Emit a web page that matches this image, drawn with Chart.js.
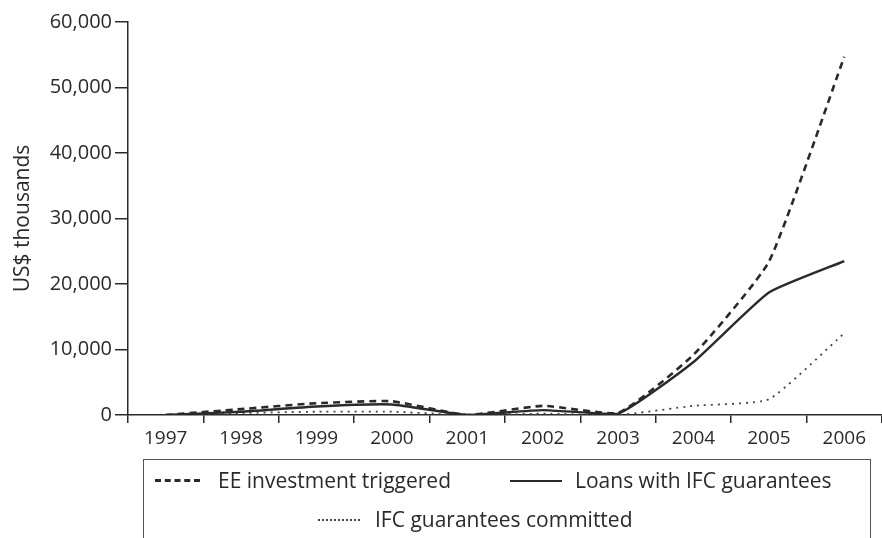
<!DOCTYPE html>
<html>
<head>
<meta charset="utf-8">
<script src="https://cdn.jsdelivr.net/npm/chart.js@4/dist/chart.umd.min.js"></script>
<style>
    html, body { margin: 0; padding: 0; background: #fff; }
    #wrap { position: relative; width: 882px; height: 538px; overflow: hidden; }
    #legend {
        position: absolute; left: 143px; top: 459px; width: 728px; height: 100px;
        border: 1.5px solid #555; box-sizing: border-box;
        font-family: "Open Sans", sans-serif; font-size: 21px; color: #2a2a2a;
    }
    .item { position: absolute; display: flex; align-items: center; white-space: nowrap; line-height: 29px; }
    .sample { display: inline-block; height: 0; }
</style>
</head>
<body>
<div id="wrap">
    <canvas id="grafica" width="882" height="538"></canvas>
    <div id="legend"></div>
</div>
<script>
// categorías (años)
const years = ['1997', '1998', '1999', '2000', '2001', '2002', '2003', '2004', '2005', '2006'];
// valores de cada serie, US$ miles
const eeInvestment = [0, 900, 1800, 2100, 0, 1400, 300, 9200, 23400, 54700];
const loansIfc = [0, 500, 1300, 1600, 0, 750, 200, 8100, 18700, 23500];
const ifcCommitted = [0, 300, 500, 500, 0, 200, 0, 1400, 2400, 12500];
// nombres de las series
const seriesNames = ['EE investment triggered', 'Loans with IFC guarantees', 'IFC guarantees committed'];

const FONT = { family: '"Open Sans", sans-serif', size: 20 };
const INK = '#2a2a2a';

const element = document.getElementById('grafica').getContext('2d');
const graph = new Chart(element, {
    type: 'line',
    data: {
        labels: years,
        datasets: [{
            label: seriesNames[0],
            data: eeInvestment,
            borderColor: INK,
            borderWidth: 2.6,
            borderDash: [7, 5]
        }, {
            label: seriesNames[1],
            data: loansIfc,
            borderColor: INK,
            borderWidth: 2.4
        }, {
            label: seriesNames[2],
            data: ifcCommitted,
            borderColor: '#444',
            borderWidth: 1.8,
            borderDash: [2, 5]
        }]
    },
    options: {
        responsive: false,
        animation: false,
        layout: { padding: { top: 22, right: 0, bottom: 0, left: 0 } },
        elements: {
            point: { radius: 0 },
            line: { tension: 0.15 }
        },
        plugins: {
            legend: { display: false },
            tooltip: { enabled: false }
        },
        scales: {
            x: {
                offset: true,
                grid: { offset: true, drawOnChartArea: false, drawTicks: true, tickLength: 8, color: INK, lineWidth: 1.5 },
                border: { display: true, color: INK, width: 1.5 },
                ticks: { color: INK, font: { family: FONT.family, size: 19 }, padding: 4, maxRotation: 0 },
                afterFit: (scale) => { scale.height = 123; }
            },
            y: {
                min: 0,
                max: 60000,
                grid: { drawOnChartArea: false, drawTicks: true, tickLength: 13, color: INK, lineWidth: 1.5 },
                border: { display: true, color: INK, width: 1.5 },
                ticks: { stepSize: 10000, color: INK, font: FONT, padding: 3 },
                title: { display: true, text: 'US$ thousands', color: INK, font: { family: FONT.family, size: 21 }, padding: { top: 10, bottom: 0 } },
                afterFit: (scale) => { scale.width = 128; }
            }
        }
    }
});

// leyenda en html con las muestras de línea
const legendPos = [
    { left: 11, top: 6 },
    { left: 366, top: 6 },
    { left: 174, top: 45 }
];
const sampleStyle = [
    { width: 45, gap: 18, border: '3px dashed ' + INK },
    { width: 52, gap: 13, border: '2.5px solid ' + INK },
    { width: 42, gap: 15, border: '2px dotted #444' }
];
const legend = document.getElementById('legend');
seriesNames.forEach((name, i) => {
    const item = document.createElement('div');
    item.className = 'item';
    item.style.left = legendPos[i].left + 'px';
    item.style.top = legendPos[i].top + 'px';
    const sample = document.createElement('span');
    sample.className = 'sample';
    sample.style.width = sampleStyle[i].width + 'px';
    sample.style.marginRight = sampleStyle[i].gap + 'px';
    sample.style.borderTop = sampleStyle[i].border;
    const text = document.createElement('span');
    text.textContent = name;
    item.appendChild(sample);
    item.appendChild(text);
    legend.appendChild(item);
});
</script>
</body>
</html>
